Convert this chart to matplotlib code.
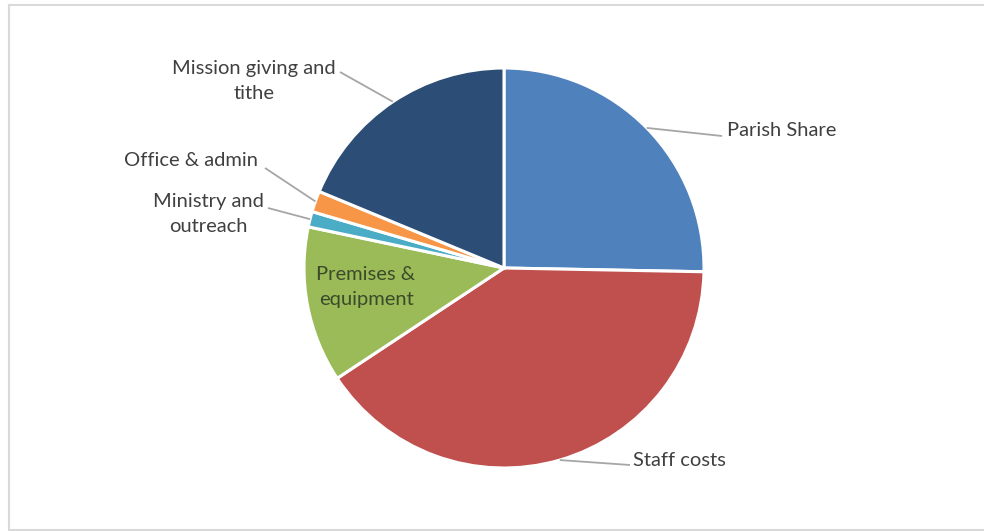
import numpy as np
import matplotlib
matplotlib.use("Agg")
import matplotlib.pyplot as plt

plt.rcParams['font.family'] = ['Lato', 'DejaVu Sans']

categories = ['Parish Share', 'Staff costs', 'Premises &\nequipment',
              'Ministry and\noutreach', 'Office & admin', 'Mission giving and\ntithe']
values = [25.3, 40.4, 12.6, 1.25, 1.7, 18.75]
colors = ['#4F81BD', '#C0504D', '#9BBB59', '#4BACC6', '#F79646', '#2C4D75']

W, H = 984, 531
fig = plt.figure(figsize=(W / 100, H / 100), dpi=100)
ax = fig.add_axes([0, 0, 1, 1])

cx, cy, R = 504, H - 268, 200
wedges, _ = ax.pie(values, colors=colors, startangle=90, counterclock=False,
                   center=(cx, cy), radius=R, frame=False,
                   wedgeprops=dict(edgecolor='white', linewidth=2.2))
ax.set_xlim(0, W)
ax.set_ylim(0, H)
ax.set_aspect('equal')
ax.axis('off')

# outer labels: (text x, text y, line end x, line end y, ha) in pixels from top-left
label_pos = {
    0: (727, 130, 722, 136, 'left'),
    1: (633, 461, 630, 465, 'left'),
    3: (208, 214, 268, 208, 'center'),
    4: (258, 161, 265, 168, 'right'),
    5: (254, 81, 340, 72, 'center'),
}
txt_col = '#404040'
fs = 14.5
ls = 1.55
for i, w in enumerate(wedges):
    mid = np.deg2rad((w.theta1 + w.theta2) / 2)
    px, py = cx + R * np.cos(mid), cy + R * np.sin(mid)
    if i in label_pos:
        tx, ty, lx, ly, ha = label_pos[i]
        ax.plot([px, lx], [py, H - ly], color='#A6A6A6', lw=1.3,
                solid_capstyle='butt')
        ax.text(tx, H - ty, categories[i], ha=ha, va='center', fontsize=fs,
                color=txt_col, linespacing=ls)
    elif i == 2:
        ax.text(366, H - 287, categories[i], ha='center', va='center',
                fontsize=fs, color='#3D4A2A', linespacing=ls)

# chart frame
ax.plot([9, 9], [H - 5, H - 530], color='#D9D9D9', lw=1.5)
ax.plot([9, W], [H - 5, H - 5], color='#D9D9D9', lw=1.5)
ax.plot([9, W], [H - 530, H - 530], color='#D9D9D9', lw=1.5)

fig.savefig('out.png', dpi=100, facecolor='white')
